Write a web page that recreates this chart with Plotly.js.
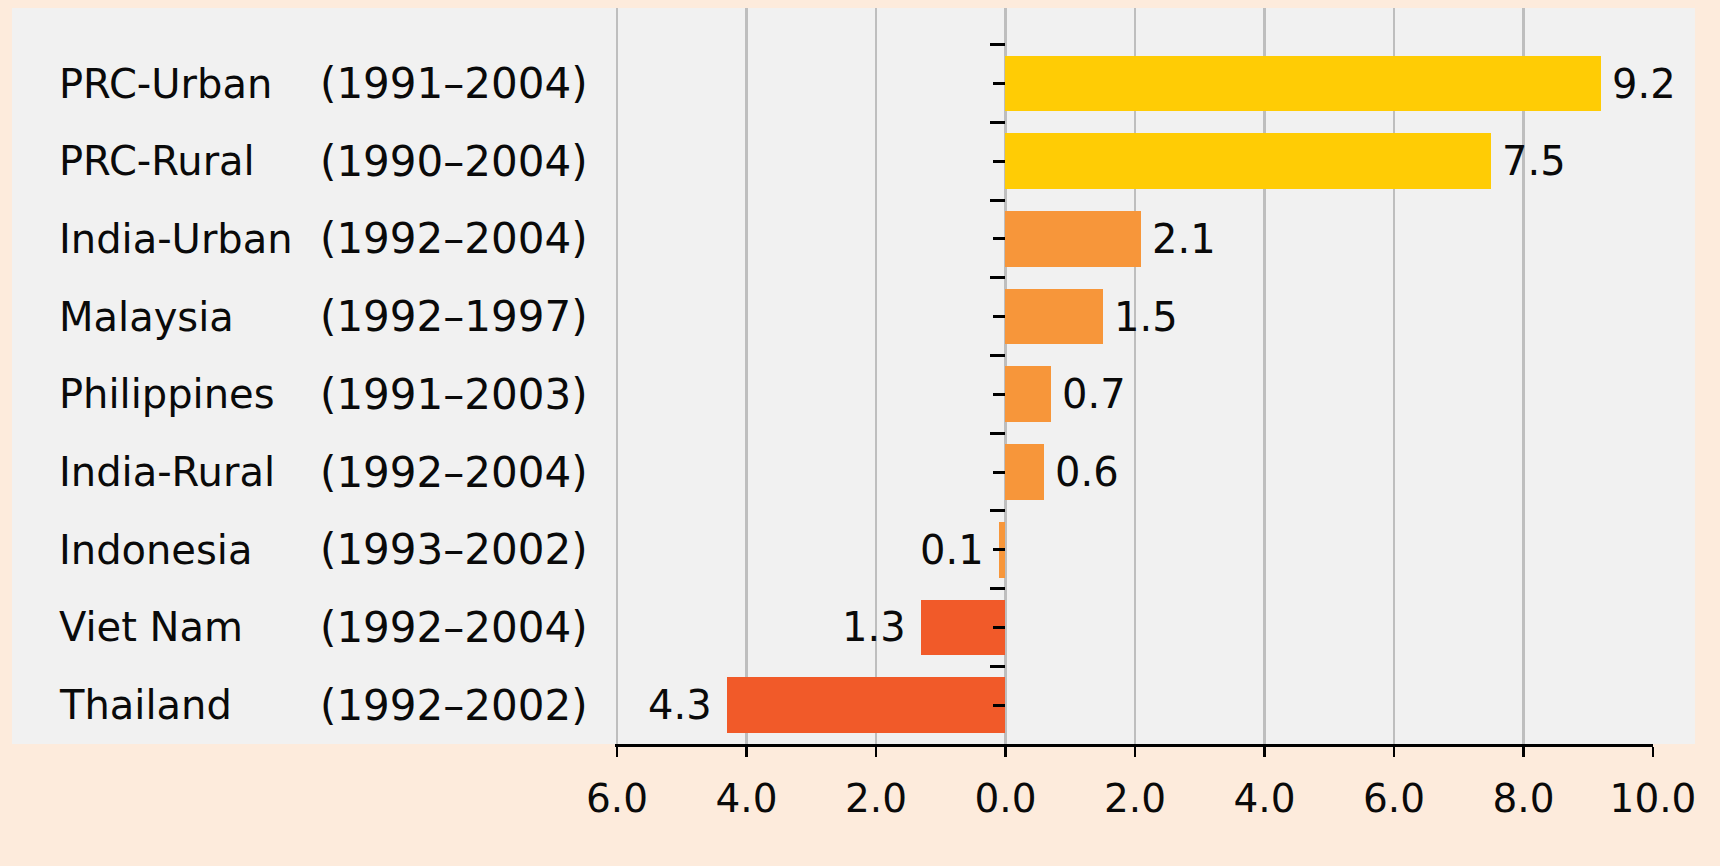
<!DOCTYPE html>
<html>
<head>
<meta charset="utf-8">
<script src="https://cdn.plot.ly/plotly-3.0.1.min.js"></script>
<style>
  html, body { margin: 0; padding: 0; background: #FDEBDC; }
  #chart { width: 1720px; height: 866px; }
</style>
</head>
<body>
<div id="chart"></div>
<script>
// ---- Data ----
const categories = ['PRC-Urban', 'PRC-Rural', 'India-Urban', 'Malaysia', 'Philippines', 'India-Rural', 'Indonesia', 'Viet Nam', 'Thailand'];
const periods = ['(1991\u20132004)', '(1990\u20132004)', '(1992\u20132004)', '(1992\u20131997)', '(1991\u20132003)', '(1992\u20132004)', '(1993\u20132002)', '(1992\u20132004)', '(1992\u20132002)'];
const values = [9.2, 7.5, 2.1, 1.5, 0.7, 0.6, -0.1, -1.3, -4.3];
const valueLabels = ['9.2', '7.5', '2.1', '1.5', '0.7', '0.6', '0.1', '1.3', '4.3'];
const xTickVals = [-6, -4, -2, 0, 2, 4, 6, 8, 10];
const xTickText = ['6.0', '4.0', '2.0', '0.0', '2.0', '4.0', '6.0', '8.0', '10.0'];

// ---- Styles ----
const YELLOW = '#FFCC05', ORANGE = '#F7963A', RED = '#F15A29';
const barColors = [YELLOW, YELLOW, ORANGE, ORANGE, ORANGE, ORANGE, ORANGE, RED, RED];
const FONT = 'DejaVu Sans';
const W = 1720, H = 866;
const xRange = [-6.03, 10];
const pxPerUnit = 64.75;
const M = { l: Math.round(617 + (xRange[0] + 6) * pxPerUnit), r: 67, t: 8, b: 122 };
const plotW = W - M.l - M.r;
const px2paper = p => (p - M.l) / plotW;

const rows = categories.map((c, i) => i);
const boundaries = categories.map((c, i) => i - 0.5);

const trace = {
  type: 'bar',
  orientation: 'h',
  x: values,
  y: rows,
  width: 0.717,
  marker: { color: barColors, line: { width: 0 } },
  hoverinfo: 'none'
};

const annotations = [];
categories.forEach((c, i) => {
  annotations.push({
    xref: 'paper', yref: 'y', x: px2paper(57), y: i, text: c,
    xanchor: 'left', yanchor: 'middle', showarrow: false,
    font: { family: FONT, size: 40, color: '#0a0a0a' }
  });
  annotations.push({
    xref: 'paper', yref: 'y', x: px2paper(454), y: i, text: periods[i],
    xanchor: 'center', yanchor: 'middle', showarrow: false,
    font: { family: FONT, size: 42, color: '#0a0a0a' }
  });
  const v = values[i];
  annotations.push({
    xref: 'x', yref: 'y', x: v, y: i, text: valueLabels[i],
    xanchor: v >= 0 ? 'left' : 'right', yanchor: 'middle',
    xshift: v >= 0 ? 9 : -13, showarrow: false,
    font: { family: FONT, size: 40, color: '#0a0a0a' }
  });
});

const layout = {
  width: W, height: H,
  margin: M,
  paper_bgcolor: '#FDEBDC',
  plot_bgcolor: '#F1F1F1',
  showlegend: false,
  bargap: 0,
  xaxis: {
    range: xRange,
    tickmode: 'array', tickvals: xTickVals, ticktext: xTickText,
    ticks: 'outside', ticklen: 10, tickwidth: 2.5, tickcolor: '#000',
    showline: true, linewidth: 3, linecolor: '#000',
    showgrid: true, gridcolor: '#BEBEBE', gridwidth: 2.5,
    zeroline: false,
    tickfont: { family: FONT, size: 39, color: '#0a0a0a' },
    ticklabelstandoff: 8,
    fixedrange: true
  },
  yaxis: {
    range: [8.50, -0.972],
    anchor: 'free',
    position: (0 - xRange[0]) / (xRange[1] - xRange[0]),
    tickmode: 'array', tickvals: rows,
    ticks: 'outside', ticklen: 12, tickwidth: 3, tickcolor: '#000',
    showticklabels: false, showgrid: false, zeroline: false, showline: false,
    minor: { tickmode: 'array', tickvals: boundaries, ticks: 'outside', ticklen: 15, tickwidth: 3, tickcolor: '#000', showgrid: false },
    fixedrange: true
  },
  shapes: [{
    type: 'rect', layer: 'below', xref: 'paper', yref: 'paper',
    x0: px2paper(12), x1: px2paper(1695), y0: 0, y1: 1,
    fillcolor: '#F1F1F1', line: { width: 0 }
  }],
  annotations: annotations
};

Plotly.newPlot('chart', [trace], layout, { displayModeBar: false, staticPlot: true });
</script>
</body>
</html>
